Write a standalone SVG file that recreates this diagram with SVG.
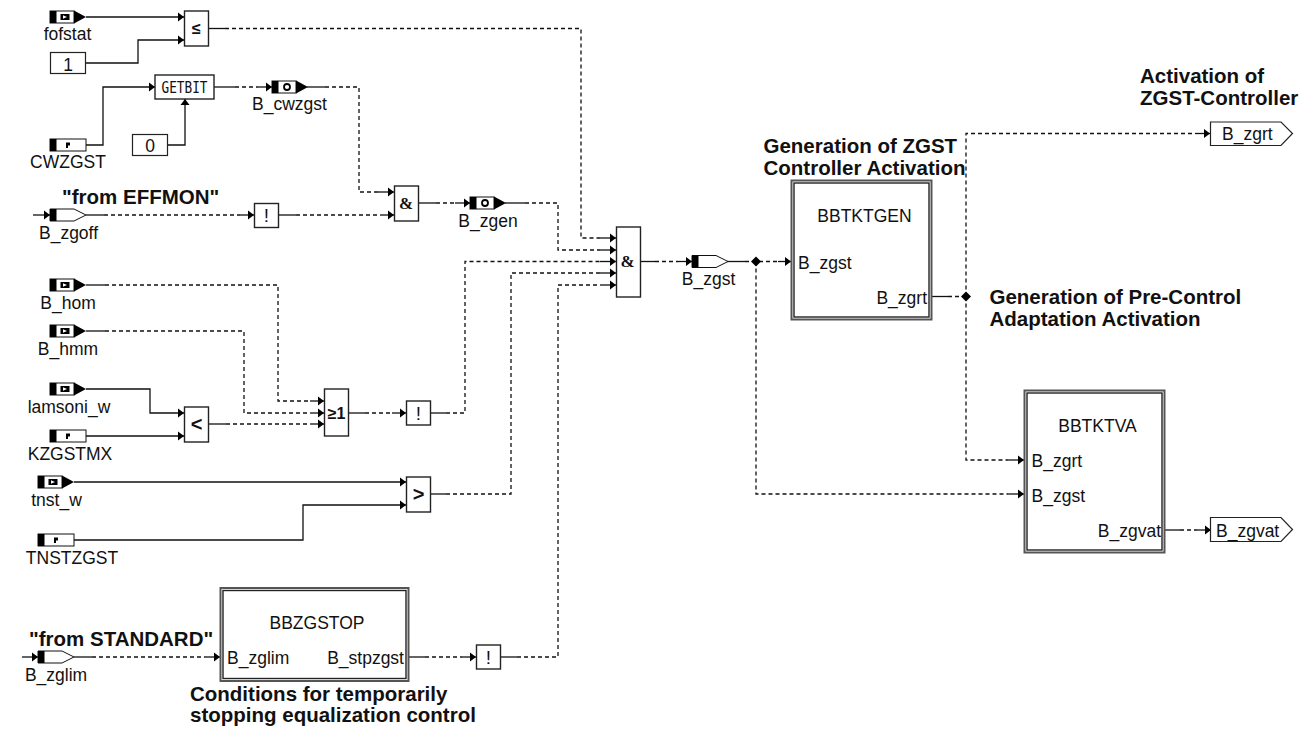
<svg xmlns="http://www.w3.org/2000/svg" width="1309" height="731" viewBox="0 0 1309 731">
<style>
text{font-family:"Liberation Sans",Arial,sans-serif;font-size:17.5px;fill:#111}
.b{font-weight:bold;font-size:20.500px}
.m{text-anchor:middle}
.e{text-anchor:end}
.box{fill:#fff;stroke:#222;stroke-width:1.4}
.out{fill:#fff;stroke:#555;stroke-width:2}
.sym{font-weight:bold;text-anchor:middle;font-size:20px}
.n{text-anchor:middle;font-size:19px}
.w,.d{fill:none;stroke:#111;stroke-width:1.3}
.d{stroke-dasharray:4 3}
.k{fill:#000}
.f{fill:#fff;stroke:#222;stroke-width:1.2}
</style>
<defs>
<marker id="a" markerUnits="userSpaceOnUse" markerWidth="8" markerHeight="10" refX="6" refY="5" orient="auto"><path d="M0 .5L6 5L0 9.500z" fill="#000"/></marker>
<g id="pd"><rect x="0" y="-6" width="24" height="12" fill="#fff" stroke="#111" stroke-width="1"/><rect x="0" y="-6" width="6.500" height="12" class="k"/><rect x="10.500" y="-3" width="9" height="6" class="k"/><path d="M13-1.800L17 0L13 1.800z" fill="#fff"/><path d="M24-6.500L36 0L24 6.500z" class="k"/></g>
<g id="pc"><rect x="0" y="-6" width="24" height="12" fill="#fff" stroke="#111" stroke-width="1"/><rect x="0" y="-6" width="6.500" height="12" class="k"/><circle cx="15" cy="0" r="3" fill="#fff" stroke="#000" stroke-width="1.800"/><path d="M24-6.500L36 0L24 6.500z" class="k"/></g>
<g id="pp"><rect x="0" y="-6" width="36" height="12" fill="#fff" stroke="#111" stroke-width="1"/><rect x="0" y="-6" width="6.500" height="12" class="k"/><path d="M16-2.500h4v3h-2v2.500h-2z" class="k"/></g>
<g id="pi"><path d="M0-6H24L36 0L24 6H0z" fill="#fff" stroke="#111" stroke-width="1"/><rect x="0" y="-6" width="6.500" height="12" class="k"/></g>
</defs>
<g id="connectors">
<path class="w" d="M86 17H184" marker-end="url(#a)"/>
<path class="w" d="M86 63H138V40H184" marker-end="url(#a)"/>
<path class="w" d="M209 28.500H225"/><path class="d" d="M225 28.500H581V238H600"/><path class="w" d="M600 238H616" marker-end="url(#a)"/>
<path class="w" d="M86 145H103V87H155" marker-end="url(#a)"/>
<path class="w" d="M167 145H185V99" marker-end="url(#a)"/>
<path class="w" d="M214 87H235"/><path class="d" d="M235 87H258"/><path class="w" d="M258 87H272" marker-end="url(#a)"/>
<path class="w" d="M307 87H325"/><path class="d" d="M325 87H359V192H378"/><path class="w" d="M378 192H394" marker-end="url(#a)"/>
<path class="w" d="M33 215H50" marker-end="url(#a)"/>
<path class="w" d="M86 215H104"/><path class="d" d="M104 215H240"/><path class="w" d="M240 215H254" marker-end="url(#a)"/>
<path class="w" d="M279 215H296"/><path class="d" d="M296 215H380"/><path class="w" d="M380 215H394" marker-end="url(#a)"/>
<path class="w" d="M418 203H436"/><path class="d" d="M436 203H455"/><path class="w" d="M455 203H470" marker-end="url(#a)"/>
<path class="w" d="M505 203H525"/><path class="d" d="M525 203H558V250H600"/><path class="w" d="M600 250H616" marker-end="url(#a)"/>
<path class="w" d="M86 285H105"/><path class="d" d="M105 285H278V401H310"/><path class="w" d="M310 401H324" marker-end="url(#a)"/>
<path class="w" d="M86 331H105"/><path class="d" d="M105 331H244V413H310"/><path class="w" d="M310 413H324" marker-end="url(#a)"/>
<path class="w" d="M86 389H150V413H184" marker-end="url(#a)"/>
<path class="w" d="M86 436H184" marker-end="url(#a)"/>
<path class="w" d="M209 424H226"/><path class="d" d="M226 424H310"/><path class="w" d="M310 424H324" marker-end="url(#a)"/>
<path class="w" d="M349 413H365"/><path class="d" d="M365 413H392"/><path class="w" d="M392 413H406" marker-end="url(#a)"/>
<path class="w" d="M430 413H446"/><path class="d" d="M446 413H465V261.500H600"/><path class="w" d="M600 261.500H616" marker-end="url(#a)"/>
<path class="w" d="M74 482H406" marker-end="url(#a)"/>
<path class="w" d="M74 540H303V505H406" marker-end="url(#a)"/>
<path class="w" d="M430 494H446"/><path class="d" d="M446 494H511V273H600"/><path class="w" d="M600 273H616" marker-end="url(#a)"/>
<path class="w" d="M22 657H38" marker-end="url(#a)"/>
<path class="w" d="M74 657H92"/><path class="d" d="M92 657H205"/><path class="w" d="M205 657H220" marker-end="url(#a)"/>
<path class="w" d="M408 657H425"/><path class="d" d="M425 657H462"/><path class="w" d="M462 657H476" marker-end="url(#a)"/>
<path class="w" d="M500 657H517"/><path class="d" d="M517 657H558V285H600"/><path class="w" d="M600 285H616" marker-end="url(#a)"/>
<path class="w" d="M640 261.500H655"/><path class="d" d="M655 261.500H678"/><path class="w" d="M678 261.500H692" marker-end="url(#a)"/>
<path class="w" d="M727 261.500H745"/><path class="d" d="M745 261.500H778"/><path class="w" d="M778 261.500H791" marker-end="url(#a)"/>
<path class="d" d="M756 261.500V494H1008"/><path class="w" d="M1008 494H1024" marker-end="url(#a)"/>
<path class="w" d="M931 296.500H948"/><path class="d" d="M948 296.500H966"/>
<path class="d" d="M966 296.500V133.500H1195"/><path class="w" d="M1195 133.500H1210" marker-end="url(#a)"/>
<path class="d" d="M966 296.500V460H1008"/><path class="w" d="M1008 460H1024" marker-end="url(#a)"/>
<path class="w" d="M1164 530H1180"/><path class="d" d="M1180 530H1197"/><path class="w" d="M1197 530H1211" marker-end="url(#a)"/>
<path class="k" d="M756 256.500L761 261.500L756 266.500L751 261.500z"/>
<path class="k" d="M966 291.500L971 296.500L966 301.500L961 296.500z"/>
</g>
<g id="fofstat"><use href="#pd" x="50" y="17"/><text class="m" x="67.500" y="40">fofstat</text></g>
<g id="const1"><rect class="f" x="50.500" y="52.500" width="35" height="21"/><text class="m" x="68" y="70.500">1</text></g>
<g id="le"><rect class="box" x="184.500" y="11" width="24" height="35"/><text class="sym" x="196.500" y="34" style="font-size:16px">≤</text></g>
<g id="getbit"><rect class="box" x="155" y="75" width="59" height="24"/><text class="m" x="184.500" y="92.700" style="font-family:'DejaVu Sans Mono',monospace;font-size:16px" textLength="46" lengthAdjust="spacingAndGlyphs">GETBIT</text></g>
<g id="CWZGST"><use href="#pp" x="50" y="145"/><text class="m" x="68" y="168">CWZGST</text></g>
<g id="const0"><rect class="f" x="132.500" y="134.500" width="35" height="21"/><text class="m" x="150" y="152">0</text></g>
<g id="B_cwzgst"><use href="#pc" x="272" y="87"/><text class="m" x="289.500" y="110">B_cwzgst</text></g>
<g id="effmon"><text class="b" x="62" y="204">"from EFFMON"</text></g>
<g id="B_zgoff"><use href="#pi" x="50" y="215"/><text class="m" x="68.500" y="239">B_zgoff</text></g>
<g id="not1"><rect class="box" x="254.500" y="203.500" width="24" height="24"/><text class="n" x="266.500" y="222">!</text></g>
<g id="and1"><rect class="box" x="394.500" y="186" width="24" height="35"/><text class="sym" x="406" y="209" style="font-family:'Liberation Serif',serif;font-size:17px">&amp;</text></g>
<g id="B_zgen"><use href="#pc" x="470" y="203"/><text class="m" x="488" y="227">B_zgen</text></g>
<g id="B_hom"><use href="#pd" x="50" y="285"/><text class="m" x="68" y="308.500">B_hom</text></g>
<g id="B_hmm"><use href="#pd" x="50" y="331"/><text class="m" x="68" y="355">B_hmm</text></g>
<g id="lamsoni_w"><use href="#pd" x="50" y="389"/><text class="m" x="69" y="413">lamsoni_w</text></g>
<g id="KZGSTMX"><use href="#pp" x="50" y="436"/><text class="m" x="70" y="460">KZGSTMX</text></g>
<g id="lt"><rect class="box" x="184.500" y="407" width="24" height="35"/><text class="sym" x="196.500" y="431">&lt;</text></g>
<g id="or"><rect class="box" x="324.500" y="389" width="24" height="47"/><text class="sym" x="336.500" y="419" style="font-size:16px">≥1</text></g>
<g id="not2"><rect class="box" x="406.500" y="401" width="24" height="24"/><text class="n" x="418.500" y="420">!</text></g>
<g id="tnst_w"><use href="#pd" x="38" y="482"/><text class="m" x="56.500" y="506">tnst_w</text></g>
<g id="TNSTZGST"><use href="#pp" x="38" y="540"/><text class="m" x="72" y="564">TNSTZGST</text></g>
<g id="gt"><rect class="box" x="406.500" y="477" width="24" height="35"/><text class="sym" x="418.500" y="501">&gt;</text></g>
<g id="standard"><text class="b" x="29" y="646">"from STANDARD"</text></g>
<g id="B_zglim"><use href="#pi" x="38" y="657"/><text class="m" x="56" y="681">B_zglim</text></g>
<g id="BBZGSTOP"><rect class="out" x="220.500" y="588" width="188" height="93"/><rect class="box" x="223" y="590.500" width="183" height="88"/><text class="m" x="317" y="629">BBZGSTOP</text><text x="227" y="664">B_zglim</text><text class="e" x="404" y="664">B_stpzgst</text></g>
<g id="not3"><rect class="box" x="476.500" y="645" width="24" height="24"/><text class="n" x="488.500" y="664">!</text></g>
<g id="cond"><text class="b" x="190" y="701">Conditions for temporarily</text><text class="b" x="190" y="722">stopping equalization control</text></g>
<g id="and2"><rect class="box" x="616.500" y="227" width="24" height="70"/><text class="sym" x="627.500" y="267" style="font-family:'Liberation Serif',serif;font-size:17px">&amp;</text></g>
<g id="B_zgst"><use href="#pi" x="692" y="261.500"/><text class="m" x="708.500" y="285">B_zgst</text></g>
<g id="BBTKTGEN"><rect class="out" x="791.500" y="180.500" width="140" height="139"/><rect class="box" x="794" y="183" width="135" height="134"/><text class="m" x="864.500" y="222">BBTKTGEN</text><text x="798" y="269">B_zgst</text><text class="e" x="927" y="304">B_zgrt</text></g>
<g id="genlabel"><text class="b" x="763.500" y="153">Generation of ZGST</text><text class="b" x="763.500" y="174.500">Controller Activation</text></g>
<g id="prelabel"><text class="b" x="989.500" y="304">Generation of Pre-Control</text><text class="b" x="989.500" y="326">Adaptation Activation</text></g>
<g id="actlabel"><text class="b" x="1140" y="83">Activation of</text><text class="b" x="1140" y="105">ZGST-Controller</text></g>
<g id="B_zgrt"><path class="f" d="M1210.500 122H1281L1292.500 133.500L1281 145.500H1210.500z"/><text x="1222" y="140">B_zgrt</text></g>
<g id="BBTKTVA"><rect class="out" x="1024.500" y="390.500" width="140" height="162"/><rect class="box" x="1027" y="393" width="135" height="157"/><text class="m" x="1097.500" y="432">BBTKTVA</text><text x="1031.500" y="467">B_zgrt</text><text x="1031.500" y="502">B_zgst</text><text class="e" x="1161" y="537">B_zgvat</text></g>
<g id="B_zgvat"><path class="f" d="M1210.500 517.500H1281L1292.500 529.500L1281 541.500H1210.500z"/><text x="1216" y="536.500">B_zgvat</text></g>
</svg>
